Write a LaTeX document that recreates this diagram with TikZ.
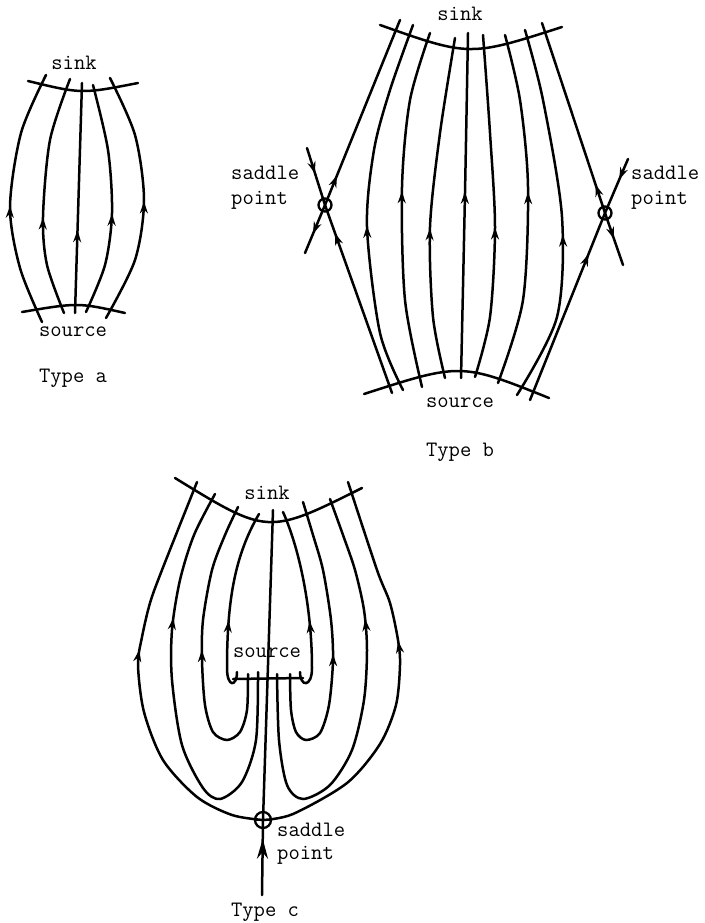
\documentclass[tikz,border=0pt]{standalone}
\usetikzlibrary{arrows.meta, decorations.markings}

\begin{document}
\begin{tikzpicture}[
    x=1pt, y=-1pt,
    flowline/.style={line width=2.5pt, line cap=round},
    flowarrow/.style={decoration={markings,
        mark=at position #1 with {\arrow{Stealth[length=12pt, width=8pt]}}},
        postaction={decorate}},
    bigarrow/.style={decoration={markings,
        mark=at position #1 with {\arrow{Stealth[length=20pt, width=11pt]}}},
        postaction={decorate}},
    lbl/.style={font=\ttfamily\fontsize{22}{25}\selectfont, inner sep=0pt},
    saddlept/.style={draw, circle, line width=2.3pt, minimum size=#1, inner sep=0pt},
]
\useasboundingbox (0,0) rectangle (704,923);

% ============================================================
%  Type a
% ============================================================
\node[lbl] (sinkA) at (74,63) {sink};
\node[lbl] (sourceA) at (73,332) {source};
\node[lbl] (typeA) at (73,378) {Type a};

\draw[flowline] (28,81) .. controls (81.7,94) .. (138,83);
\draw[flowline] (22,312) .. controls (78.1,302.5) .. (125,313);

\draw[flowline, flowarrow=0.47] plot[smooth] coordinates {(42,322) (20,268) (10,207) (21,133) (46,75)};
\draw[flowline, flowarrow=0.41] plot[smooth] coordinates {(64,313) (47,265) (43,217) (50,140) (70,79)};
\draw[flowline, flowarrow=0.36] (75,313) -- (82,83);
\draw[flowline, flowarrow=0.44] plot[smooth] coordinates {(86,312) (105,265) (112,213) (108,150) (93,85)};
\draw[flowline, flowarrow=0.49] plot[smooth] coordinates {(106,318) (135,260) (144,200) (135,135) (110,78)};

% ============================================================
%  Type b
% ============================================================
\node[lbl] (sinkB) at (460,14) {sink};
\node[lbl] (sourceB) at (460,403) {source};
\node[lbl] (typeB) at (460,452) {Type b};
\node[lbl, anchor=west, align=left] (sadLlbl) at (231,188) {saddle\\point};
\node[lbl, anchor=west, align=left] (sadRlbl) at (631,188) {saddle\\point};

\draw[flowline] (380,25) .. controls (469.7,56.7) .. (562,27);
\draw[flowline] (364,394) .. controls (461,362.7) .. (549,398);

\draw[flowline, flowarrow=0.45] plot[smooth] coordinates {(403,390) (380,333) (367,227) (374,150) (390,90) (413,25)};
\draw[flowline, flowarrow=0.55] plot[smooth] coordinates {(422,387) (405,300) (402,187) (410,100) (430,33)};
\draw[flowline, flowarrow=0.44] plot[smooth] coordinates {(445,378) (433,317) (430,227) (440,133) (455,38)};
\draw[flowline, flowarrow=0.54] plot[smooth] coordinates {(461,378) (465,193) (468,33)};
\draw[flowline, flowarrow=0.44] plot[smooth] coordinates {(475,377) (490,317) (495,227) (490,133) (483,35)};
\draw[flowline, flowarrow=0.55] plot[smooth] coordinates {(498,383) (523,300) (528,187) (520,100) (505,35)};
\draw[flowline, flowarrow=0.45] plot[smooth] coordinates {(517,395) (557,317) (562,217) (543,100) (525,30)};

% saddle points
\node[saddlept=13pt] (sadL) at (325,205) {};
\node[saddlept=13pt] (sadR) at (605,213) {};

\draw[flowline, flowarrow=0.16] (sadL.center) -- (400,20);
\draw[flowline, flowarrow=0.6] (sadL.center) -- (305,253);
\draw[flowline, flowarrow=0.45] (307,148) -- (sadL.center);
\draw[flowline, flowarrow=0.85] (392,393) -- (sadL.center);

\draw[flowline, flowarrow=0.38] (628,159) -- (sadR.center);
\draw[flowline, flowarrow=0.78] (530,400) -- (sadR.center);
\draw[flowline, flowarrow=0.15] (sadR.center) -- (542,23);
\draw[flowline, flowarrow=0.5] (sadR.center) -- (623,265);

% ============================================================
%  Type c
% ============================================================
\node[lbl] (sinkC) at (267,493) {sink};
\node[lbl] (sourceC) at (267,653) {source};
\node[lbl] (typeC) at (265,912) {Type c};
\node[lbl, anchor=west, align=left, font=\ttfamily\fontsize{22}{23}\selectfont] (sadClbl) at (277,844) {saddle\\point};

\draw[flowline] (175,478) .. controls (267.8,535) .. (362,488);
\draw[flowline] (233,679) -- (303,678);

\node[saddlept=16pt] (sadC) at (263,820) {};
\draw[line width=1.8pt] (sadC.north) -- (sadC.south);
\draw[line width=1.8pt] (sadC.west) -- (sadC.east);

% central line through the saddle
\draw[flowline, bigarrow=0.75] (262,895) -- (sadC.center);
\draw[flowline] (sadC.center) -- (273,510);

% outer lines from the saddle
\draw[flowline, flowarrow=0.57] plot[smooth] coordinates {(263,820) (232,815) (197,797) (163,760) (144,712) (138,665) (142,637) (150,603) (162,570) (197,482)};
\draw[flowline, flowarrow=0.6] plot[smooth] coordinates {(263,820) (293,814) (347,783) (380,744) (396,705) (400,665) (398,640) (390,603) (377,570) (348,482)};

% loops from the source, left
\draw[flowline, flowarrow=0.72] plot[smooth] coordinates {(258,672) (256,740) (242,782) (220,799) (203,788) (182,745) (172,680) (172,630) (180,580) (194,535) (215,494)};
\draw[flowline, flowarrow=0.54] plot[smooth] coordinates {(248,674) (247,710) (240,732) (227,740) (213,732) (205,705) (202,660) (203,620) (212,570) (225,535) (238,507)};
\draw[flowline, flowarrow=0.41] (237,672) .. controls (237,687) and (227,688) .. (227,668) .. controls (227,600) and (235,555) .. (259,514);

% loops from the source, right
\draw[flowline, flowarrow=0.73] plot[smooth] coordinates {(277,674) (279,740) (287,785) (303,799) (330,785) (352,750) (364,700) (367,650) (364,610) (355,570) (343,535) (330,499)};
\draw[flowline, flowarrow=0.52] plot[smooth] coordinates {(290,674) (291,710) (296,732) (306,740) (320,733) (329,705) (333,660) (331,620) (323,570) (313,535) (303,502)};
\draw[flowline, flowarrow=0.41] (300,672) .. controls (300,687) and (312,688) .. (312,668) .. controls (312,610) and (300,550) .. (283,512);

\end{tikzpicture}
\end{document}
